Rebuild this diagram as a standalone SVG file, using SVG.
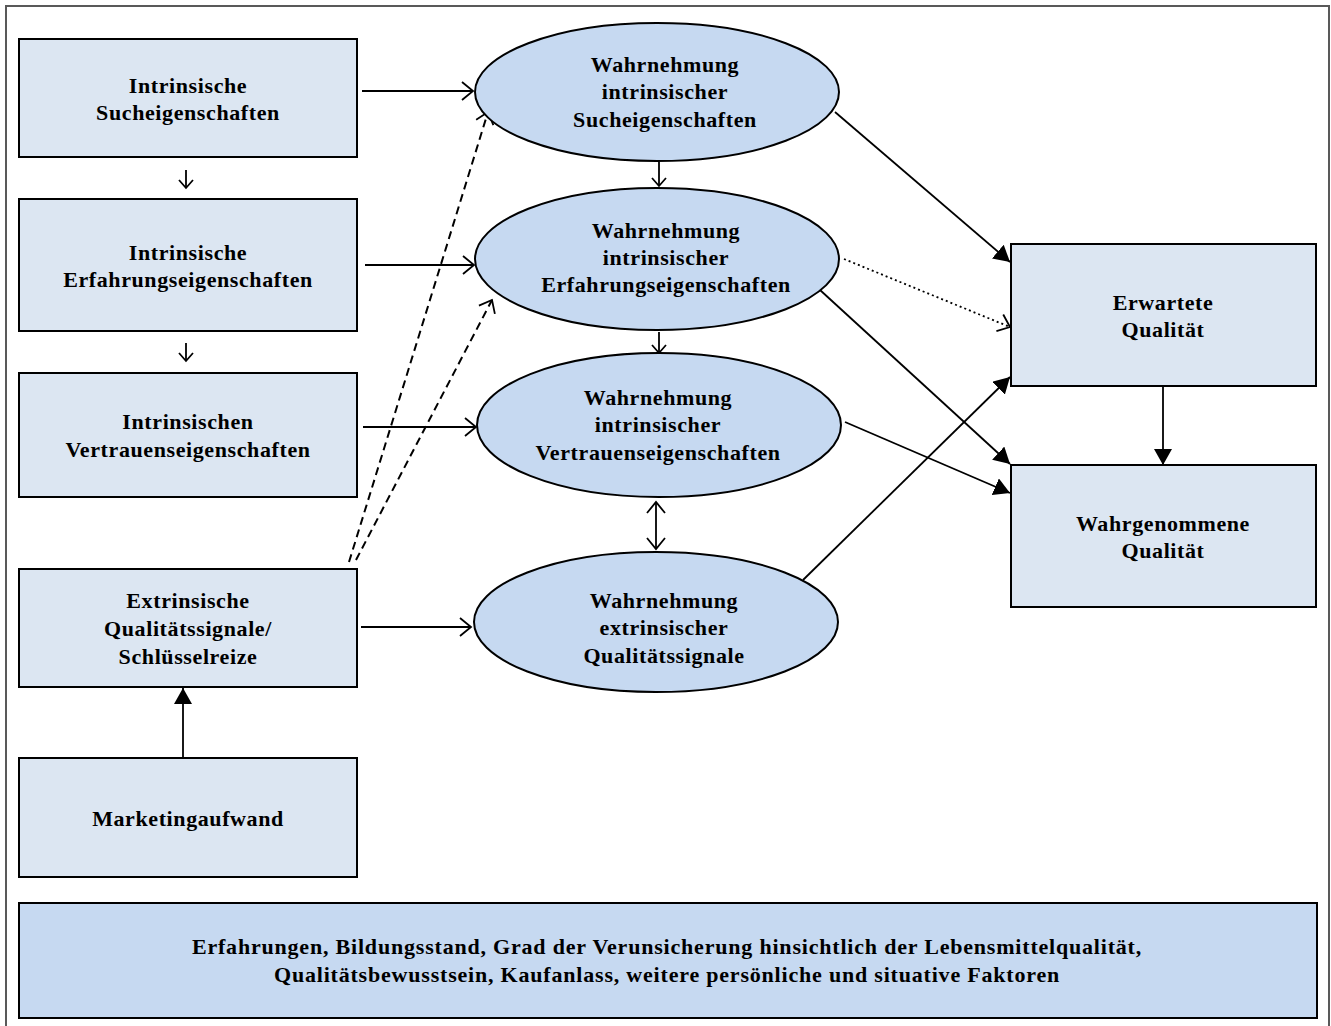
<svg xmlns="http://www.w3.org/2000/svg" width="1331" height="1026" viewBox="0 0 1331 1026">
<style>
.box{fill:#dce6f2;stroke:#000;stroke-width:2}
.ell{fill:#c6d9f1;stroke:#000;stroke-width:2}
.bot{fill:#c6d9f1;stroke:#000;stroke-width:2}
.t{font-family:"Liberation Serif","Times New Roman",serif;font-weight:bold;font-size:22px;text-anchor:middle;fill:#000;letter-spacing:0.6px}
.tb{letter-spacing:0.8px}
.c{fill:none;stroke:#000;stroke-width:1.8}
.dash{stroke-dasharray:8,5;stroke-width:2}
.dot{stroke-dasharray:2,3}
</style>
<defs>
<marker id="open" markerWidth="14" markerHeight="22" refX="12" refY="10" orient="auto-start-reverse" markerUnits="userSpaceOnUse"><path d="M1,1 L12,10 L1,19" fill="none" stroke="#000" stroke-width="1.8"/></marker>
<marker id="opens" markerWidth="12" markerHeight="18" refX="9" refY="8" orient="auto-start-reverse" markerUnits="userSpaceOnUse"><path d="M1,1 L9,8 L1,15" fill="none" stroke="#000" stroke-width="1.8"/></marker>
<marker id="fill" markerWidth="17" markerHeight="18" refX="16" refY="9" orient="auto" markerUnits="userSpaceOnUse"><path d="M0,0 L16,9 L0,18 z" fill="#000"/></marker>
</defs>
<rect x="6" y="6" width="1323" height="1040" fill="#fff" stroke="#595959" stroke-width="2"/>

<g id="connectors">
<line class="c" x1="362" y1="91" x2="473" y2="91" marker-end="url(#open)"/>
<line class="c" x1="365" y1="265" x2="474" y2="265" marker-end="url(#open)"/>
<line class="c" x1="363" y1="427" x2="476" y2="427" marker-end="url(#open)"/>
<line class="c" x1="361" y1="627" x2="471" y2="627" marker-end="url(#open)"/>
<line class="c" x1="186" y1="170" x2="186" y2="188" marker-end="url(#opens)"/>
<line class="c" x1="186" y1="343" x2="186" y2="361" marker-end="url(#opens)"/>
<line class="c" x1="659" y1="162" x2="659" y2="186" marker-end="url(#opens)"/>
<line class="c" x1="659" y1="332" x2="659" y2="353" marker-end="url(#opens)"/>
<line class="c" x1="656" y1="502" x2="656" y2="549" marker-start="url(#open)" marker-end="url(#open)"/>
<line class="c dash" x1="349" y1="562" x2="488" y2="112" marker-end="url(#open)"/>
<line class="c dash" x1="356" y1="560" x2="492" y2="300" marker-end="url(#open)"/>
<line class="c dot" x1="844" y1="259" x2="1010" y2="327" marker-end="url(#open)"/>
<line class="c" x1="835" y1="112" x2="1010" y2="262" marker-end="url(#fill)"/>
<line class="c" x1="820" y1="290" x2="1010" y2="464" marker-end="url(#fill)"/>
<line class="c" x1="845" y1="422" x2="1010" y2="493" marker-end="url(#fill)"/>
<line class="c" x1="803" y1="580" x2="1010" y2="377" marker-end="url(#fill)"/>
<line class="c" x1="1163" y1="378" x2="1163" y2="465" marker-end="url(#fill)"/>
<line class="c" x1="183" y1="758" x2="183" y2="688" marker-end="url(#fill)"/>
</g>

<g id="n-suche">
<rect class="box" x="19" y="39" width="338" height="118"/>
<text class="t" x="188" y="93">Intrinsische</text>
<text class="t" x="188" y="120">Sucheigenschaften</text>
</g>
<g id="n-erfahrung">
<rect class="box" x="19" y="199" width="338" height="132"/>
<text class="t" x="188" y="260">Intrinsische</text>
<text class="t" x="188" y="287">Erfahrungseigenschaften</text>
</g>
<g id="n-vertrauen">
<rect class="box" x="19" y="373" width="338" height="124"/>
<text class="t" x="188" y="429">Intrinsischen</text>
<text class="t" x="188" y="457">Vertrauenseigenschaften</text>
</g>
<g id="n-extrinsisch">
<rect class="box" x="19" y="569" width="338" height="118"/>
<text class="t" x="188" y="608">Extrinsische</text>
<text class="t" x="188" y="636">Qualitätssignale/</text>
<text class="t" x="188" y="664">Schlüsselreize</text>
</g>
<g id="n-marketing">
<rect class="box" x="19" y="758" width="338" height="119"/>
<text class="t" x="188" y="826">Marketingaufwand</text>
</g>

<g id="e-suche">
<ellipse class="ell" cx="657" cy="92" rx="182" ry="69"/>
<text class="t" x="665" y="72">Wahrnehmung</text>
<text class="t" x="665" y="99">intrinsischer</text>
<text class="t" x="665" y="127">Sucheigenschaften</text>
</g>
<g id="e-erfahrung">
<ellipse class="ell" cx="657" cy="259" rx="182" ry="71"/>
<text class="t" x="666" y="238">Wahrnehmung</text>
<text class="t" x="666" y="265">intrinsischer</text>
<text class="t" x="666" y="292">Erfahrungseigenschaften</text>
</g>
<g id="e-vertrauen">
<ellipse class="ell" cx="659" cy="425" rx="182" ry="72"/>
<text class="t" x="658" y="405">Wahrnehmung</text>
<text class="t" x="658" y="432">intrinsischer</text>
<text class="t" x="658" y="460">Vertrauenseigenschaften</text>
</g>
<g id="e-extrinsisch">
<ellipse class="ell" cx="656" cy="622" rx="182" ry="70"/>
<text class="t" x="664" y="608">Wahrnehmung</text>
<text class="t" x="664" y="635">extrinsischer</text>
<text class="t" x="664" y="663">Qualitätssignale</text>
</g>

<g id="n-erwartete">
<rect class="box" x="1011" y="244" width="305" height="142"/>
<text class="t" x="1163" y="310">Erwartete</text>
<text class="t" x="1163" y="337">Qualität</text>
</g>
<g id="n-wahrgenommene">
<rect class="box" x="1011" y="465" width="305" height="142"/>
<text class="t" x="1163" y="531">Wahrgenommene</text>
<text class="t" x="1163" y="558">Qualität</text>
</g>

<g id="n-faktoren">
<rect class="bot" x="19" y="903" width="1298" height="115"/>
<text class="t tb" x="667" y="954">Erfahrungen, Bildungsstand, Grad der Verunsicherung hinsichtlich der Lebensmittelqualität,</text>
<text class="t tb" x="667" y="982">Qualitätsbewusstsein, Kaufanlass, weitere persönliche und situative Faktoren</text>
</g>
</svg>
